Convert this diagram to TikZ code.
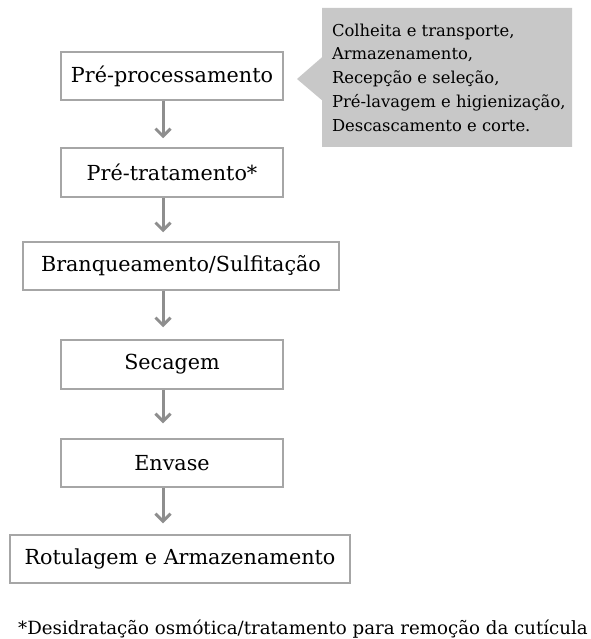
\documentclass[tikz,border=0pt]{standalone}
\usepackage{fontspec}
\setmainfont{DejaVu Serif}
\usetikzlibrary{arrows.meta,shapes.callouts}
\definecolor{boxline}{HTML}{A6A6A6}
\definecolor{callfill}{HTML}{C8C8C8}
\definecolor{arrcol}{HTML}{8E8E8E}
\tikzset{
  stepbox/.style={draw=boxline, line width=1.5pt, fill=white, inner sep=0pt,
    font=\fontsize{20.7}{24}\selectfont, text=black},
  flowarr/.style={draw=arrcol, line width=3pt,
    -{Straight Barb[length=7.5pt,width=15pt,line width=3pt]}},
  notebox/.style={rectangle callout, fill=callfill, draw=none, inner sep=0pt,
    minimum width=250pt, minimum height=139pt, align=left,
    font=\fontsize{16.4}{23.75}\selectfont, text=black},
  foot/.style={inner sep=0pt, font=\fontsize{18.2}{22}\selectfont, text=black}
}
\begin{document}
\begin{tikzpicture}[x=1pt,y=-1pt]
\useasboundingbox (0,0) rectangle (590,639);
\coordinate (ax) at (163,0);
\node[stepbox, minimum width=222pt, minimum height=48pt] (b1) at (172,76) {Pré-processamento};
\node[stepbox, minimum width=222pt, minimum height=49pt] (b2) at (172,172.5) {Pré-tratamento*};
\node[stepbox, minimum width=316pt, minimum height=48pt] (b3) at (181,266) {Branqueamento/Sulfitação};
\node[stepbox, minimum width=222pt, minimum height=49pt] (b4) at (172,364.5) {Secagem};
\node[stepbox, minimum width=222pt, minimum height=48pt] (b5) at (172,463) {Envase};
\node[stepbox, minimum width=340pt, minimum height=48pt] (b6) at (180,559) {Rotulagem e Armazenamento};
\coordinate (tip) at (297,79);
\node[notebox, callout absolute pointer={(tip)}, callout pointer width=43pt] (cl) at (447,77.5)
  {\hspace*{10pt}\parbox{240pt}{Colheita e transporte,\\Armazenamento,\\Recepção e seleção,\\Pré-lavagem e higienização,\\Descascamento e corte.}};
\draw[flowarr, shorten >=9pt] (b1.south -| ax) -- (b2.north -| ax);
\draw[flowarr, shorten >=9pt] (b2.south -| ax) -- (b3.north -| ax);
\draw[flowarr, shorten >=12pt] (b3.south -| ax) -- (b4.north -| ax);
\draw[flowarr, shorten >=15pt] (b4.south -| ax) -- (b5.north -| ax);
\draw[flowarr, shorten >=11pt] (b5.south -| ax) -- (b6.north -| ax);
\node[foot, anchor=west] (fn) at (18,629) {*Desidratação osmótica/tratamento para remoção da cutícula};
\end{tikzpicture}
\end{document}
